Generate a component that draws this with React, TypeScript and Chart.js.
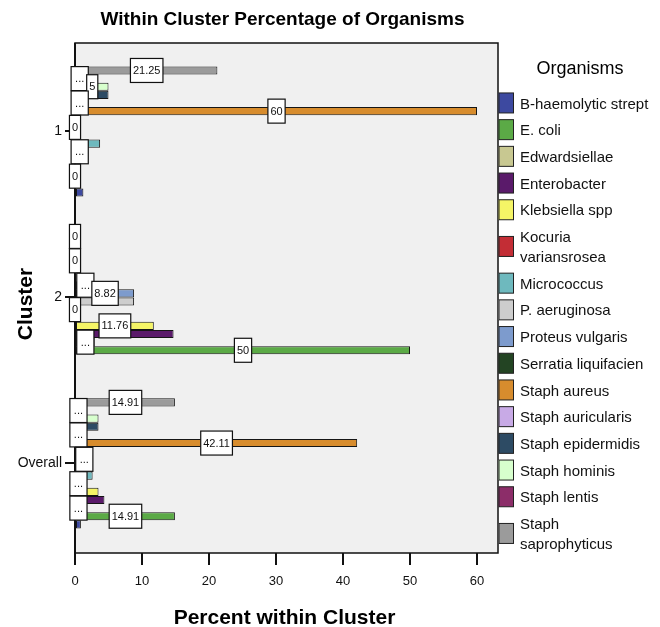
import React, { useEffect, useRef } from "react";
import { Chart, registerables } from "chart.js";

Chart.register(...registerables);

// ---------- data ----------
const organisms = [
  "B-haemolytic strept",
  "E. coli",
  "Edwardsiellae",
  "Enterobacter",
  "Klebsiella spp",
  "Kocuria variansrosea",
  "Micrococcus",
  "P. aeruginosa",
  "Proteus vulgaris",
  "Serratia liquifacien",
  "Staph aureus",
  "Staph auricularis",
  "Staph epidermidis",
  "Staph hominis",
  "Staph lentis",
  "Staph saprophyticus",
];

const organismColors = [
  "#3D49A0",
  "#5BAA46",
  "#C8C891",
  "#5A1A6A",
  "#F5F566",
  "#C32D35",
  "#6EB9BE",
  "#CDCDCD",
  "#7D9BCD",
  "#234423",
  "#D78C2D",
  "#C8AAE6",
  "#2D4B64",
  "#D7FFCD",
  "#8C2D69",
  "#9B9B9B",
];

const clusters = ["1", "2", "Overall"];

const cluster1Pct = [1.25, 0, 0, 0, 0, 1.25, 3.75, 0, 0, 0, 60, 1.25, 5, 5, 1.25, 21.25];
const cluster2Pct = [0, 50, 2.94, 14.71, 11.76, 0, 0, 8.82, 8.82, 2.94, 0, 0, 0, 0, 0, 0];
const overallPct = [0.88, 14.91, 0.88, 4.39, 3.51, 0.88, 2.63, 2.63, 2.63, 0.88, 42.11, 0.88, 3.51, 3.51, 0.88, 14.91];

const xTicks = [0, 10, 20, 30, 40, 50, 60];

const chartTitle = "Within Cluster Percentage of Organisms";
const xTitle = "Percent within Cluster";
const yTitle = "Cluster";
const legendTitle = "Organisms";

// ---------- helpers ----------
const FONT = '"Liberation Sans", Arial, sans-serif';
const clusterValues = [cluster1Pct, cluster2Pct, overallPct];
// datasets listed top-to-bottom inside each cluster (last organism on top)
const datasetOrganism = organisms.map((_, i) => organisms.length - 1 - i);

const fmt = (v: number) => (Number.isInteger(v) ? String(v) : v.toFixed(2));

function wrapText(ctx: CanvasRenderingContext2D, text: string, maxW: number): string[] {
  const words = text.split(" ");
  const lines: string[] = [];
  let cur = "";
  for (const w of words) {
    const test = cur ? cur + " " + w : w;
    if (cur && ctx.measureText(test).width > maxW) {
      lines.push(cur);
      cur = w;
    } else {
      cur = test;
    }
  }
  if (cur) lines.push(cur);
  return lines;
}

const plotBgPlugin = {
  id: "plotBg",
  beforeDatasetsDraw(chart: any) {
    const { ctx, chartArea: a } = chart;
    ctx.save();
    ctx.fillStyle = "#F0F0F0";
    ctx.fillRect(a.left, a.top, a.right - a.left, a.bottom - a.top);
    ctx.restore();
  },
};

const labelPlugin = {
  id: "barLabels",
  afterDatasetsDraw(chart: any) {
    const { ctx, chartArea: a } = chart;
    ctx.save();
    // frame
    ctx.strokeStyle = "#111";
    ctx.lineWidth = 1.5;
    ctx.strokeRect(a.left, a.top, a.right - a.left, a.bottom - a.top);
    ctx.lineWidth = 2;
    ctx.beginPath();
    ctx.moveTo(a.left, a.top);
    ctx.lineTo(a.left, a.bottom);
    ctx.stroke();

    ctx.font = "11px " + FONT;
    const H = 24;
    clusters.forEach((_, k) => {
      const placed: any[] = [];
      chart.data.datasets.forEach((ds: any, di: number) => {
        const meta = chart.getDatasetMeta(di);
        const el = meta.data[k];
        if (!el) return;
        const v = ds.data[k].x;
        let text = fmt(v);
        const barLen = Math.abs(el.x - el.base);
        let tw = ctx.measureText(text).width;
        let w: number;
        if (v !== 0 && tw > barLen) {
          text = "...";
          tw = ctx.measureText(text).width;
          w = tw + 8;
        } else {
          w = tw + 5;
        }
        const cx = (el.x + el.base) / 2;
        const cy = el.y;
        const box = { x1: cx - w / 2, x2: cx + w / 2, y1: cy - H / 2, y2: cy + H / 2, text, cx, cy };
        const hit = placed.some(
          (b) =>
            Math.min(b.x2, box.x2) - Math.max(b.x1, box.x1) > 3 &&
            Math.min(b.y2, box.y2) - Math.max(b.y1, box.y1) > 0.5
        );
        if (!hit) placed.push(box);
      });
      placed.forEach((b) => {
        ctx.fillStyle = "#FFFFFF";
        ctx.fillRect(b.x1, b.y1, b.x2 - b.x1, b.y2 - b.y1);
        ctx.strokeStyle = "#111";
        ctx.lineWidth = 1.2;
        ctx.strokeRect(b.x1, b.y1, b.x2 - b.x1, b.y2 - b.y1);
        ctx.fillStyle = "#111";
        ctx.textAlign = "center";
        ctx.textBaseline = "middle";
        ctx.fillText(b.text, b.cx, b.cy + 0.5);
      });
    });
    ctx.restore();
  },
};

const decorPlugin = {
  id: "decor",
  afterDraw(chart: any) {
    const { ctx, chartArea: a } = chart;
    ctx.save();
    ctx.fillStyle = "#000";
    ctx.textAlign = "center";
    ctx.textBaseline = "middle";
    // chart title
    ctx.font = "bold 19px " + FONT;
    ctx.fillText(chartTitle, (a.left + a.right) / 2 - 4, 20);
    // x title
    ctx.font = "bold 21px " + FONT;
    ctx.fillText(xTitle, (a.left + a.right) / 2 - 2, 618);
    // y title
    ctx.save();
    ctx.translate(26, (a.top + a.bottom) / 2 + 6);
    ctx.rotate(-Math.PI / 2);
    ctx.fillText(yTitle, 0, 0);
    ctx.restore();

    // legend
    const left = a.right;
    ctx.font = "18px " + FONT;
    ctx.fillText(legendTitle, left + 82, a.top + 26);
    ctx.font = "15px " + FONT;
    ctx.textAlign = "left";
    let y = a.top + 46.6;
    organisms.forEach((name, i) => {
      const lines = wrapText(ctx, name, 132);
      const rowH = 26.7 + (lines.length - 1) * 20;
      const cy = y + rowH / 2;
      ctx.fillStyle = organismColors[i];
      ctx.fillRect(left + 0.5, cy - 10, 15, 20);
      ctx.strokeStyle = "#222";
      ctx.lineWidth = 1;
      ctx.strokeRect(left + 1, cy - 10, 14.5, 20);
      ctx.fillStyle = "#111";
      lines.forEach((ln, j) => {
        ctx.fillText(ln, left + 22, cy + 1.5 + (j - (lines.length - 1) / 2) * 19.5);
      });
      y += rowH;
    });
    ctx.restore();
  },
};

export default function App() {
  const canvasRef = useRef<HTMLCanvasElement | null>(null);

  useEffect(() => {
    if (!canvasRef.current) return;
    const datasets = datasetOrganism.map((oi) => ({
      label: organisms[oi],
      data: clusterValues.map((vals, k) => ({ x: vals[oi], y: k })),
      backgroundColor: organismColors[oi],
      borderColor: "#151515",
      borderWidth: (c: any) => (c.raw && c.raw.x === 0 ? 0 : 1),
      borderSkipped: false,
      categoryPercentage: 0.784,
      barPercentage: 1,
    }));

    const chart = new Chart(canvasRef.current, {
      type: "bar",
      data: { datasets } as any,
      options: {
        indexAxis: "y",
        animation: false,
        responsive: true,
        maintainAspectRatio: false,
        layout: { padding: { top: 43, right: 162, left: 0, bottom: 0 } },
        plugins: {
          legend: { display: false },
          title: { display: false },
          tooltip: { enabled: false },
        },
        scales: {
          x: {
            type: "linear",
            min: 0,
            max: 63.13,
            offset: false,
            afterBuildTicks: (s: any) => {
              s.ticks = xTicks.map((v) => ({ value: v }));
            },
            afterFit: (s: any) => {
              s.height = 74;
            },
            grid: {
              display: true,
              offset: false,
              drawOnChartArea: false,
              drawTicks: true,
              tickLength: 12,
              color: "#111",
              lineWidth: 2,
            },
            border: { display: false },
            ticks: {
              color: "#111",
              padding: 9,
              font: { family: FONT, size: 13 },
              callback: (v: any) => String(v),
            },
          },
          y: {
            type: "linear",
            reverse: true,
            offset: false,
            min: -0.533,
            max: 2.54,
            afterBuildTicks: (s: any) => {
              s.ticks = clusters.map((_, i) => ({ value: i }));
            },
            afterFit: (s: any) => {
              s.width = 75;
            },
            grid: {
              display: true,
              offset: false,
              drawOnChartArea: false,
              drawTicks: true,
              tickLength: 10,
              color: "#111",
              lineWidth: 2,
            },
            border: { display: false },
            ticks: {
              color: "#111",
              padding: 3,
              font: { family: FONT, size: 14 },
              callback: (v: any) => clusters[v] ?? "",
            },
          },
        },
      } as any,
      plugins: [plotBgPlugin, labelPlugin, decorPlugin],
    });
    return () => chart.destroy();
  }, []);

  return (
    <div style={{ position: "absolute", left: 0, top: 0, width: 660, height: 627, background: "#fff" }}>
      <canvas ref={canvasRef} />
    </div>
  );
}
